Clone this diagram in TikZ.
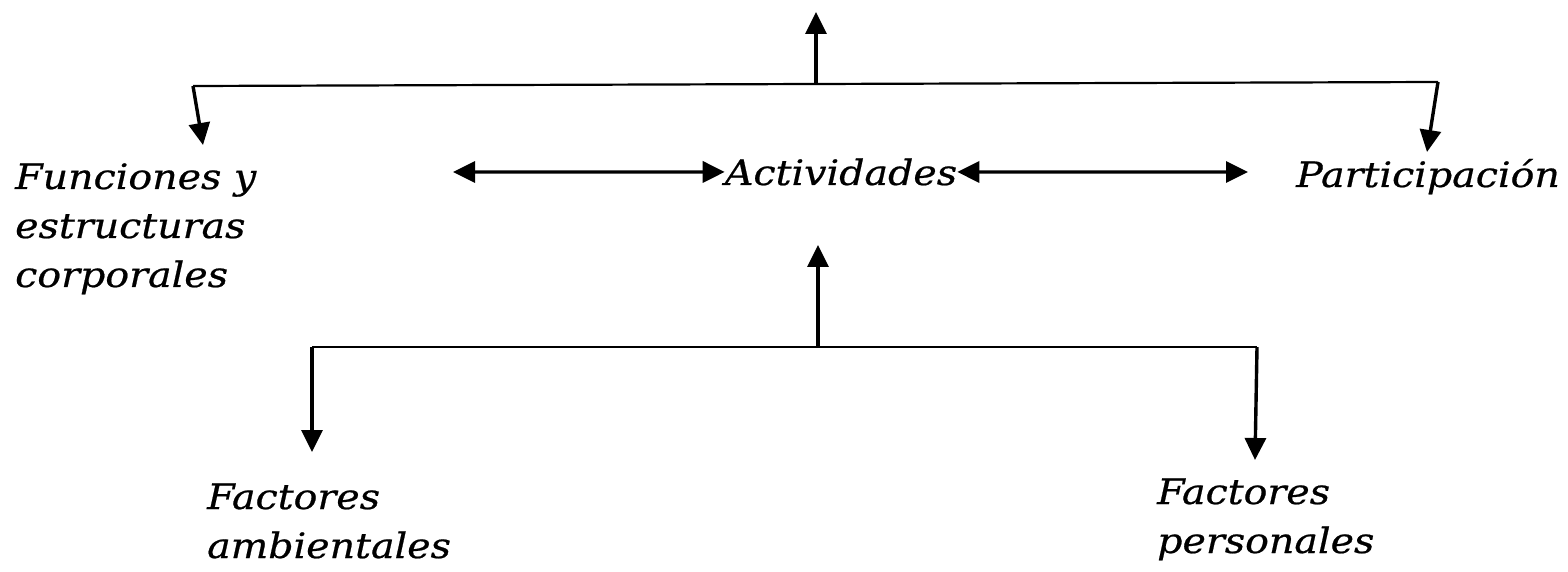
\documentclass[tikz,border=0pt]{standalone}
\usepackage{fontspec}
\setmainfont[FakeStretch=1.13,FakeBold=0.6]{DejaVu Serif}
\usetikzlibrary{arrows.meta}
\begin{document}
\begin{tikzpicture}[x=1pt,y=1pt,
  lbl/.style={font=\fontsize{35}{49}\selectfont\itshape, inner sep=0pt, align=left},
  conn/.style={line width=3.4pt, -{Triangle[length=22pt,width=21pt]}},
  dbl/.style={line width=3.4pt, {Triangle[length=22pt,width=21pt]}-{Triangle[length=22pt,width=21pt]}},
  bus/.style={line width=2.2pt}]
\useasboundingbox (0,0) rectangle (1568,571);
% nodes
\node[lbl, anchor=base west] (fun) at (15,284) {Funciones y\\estructuras\\corporales};
\node[lbl, anchor=base] (act) at (841,386) {Actividades};
\node[lbl, anchor=base west] (par) at (1296,384) {Participación};
\node[lbl, anchor=base west] (fa) at (207,13) {Factores\\ambientales};
\node[lbl, anchor=base west] (fp) at (1157,18) {Factores\\personales};
% coordinates
\coordinate (top) at (816,559);
\coordinate (tm) at (816,487);
\coordinate (tl) at (193,485);
\coordinate (tr) at (1438,489);
\coordinate (tlend) at (203,426);
\coordinate (trend) at (1427,419);
\coordinate (dl) at (453,399);
\coordinate (dr) at (1248,399);
\coordinate (mup) at (818,326);
\coordinate (bm) at (818,224);
\coordinate (bl) at (312,224);
\coordinate (br) at (1257,224);
\coordinate (blend) at (312,119);
\coordinate (brend) at (1255,111);
% connectors
\draw[bus] (tl) -- (tr);
\draw[conn] (tm) -- (top);
\draw[conn] (tl) -- (tlend);
\draw[conn] (tr) -- (trend);
\draw[dbl] (dl) -- (act.west);
\draw[dbl] (act.east) -- (dr);
\draw[bus] (bl) -- (br);
\draw[conn] (bm) -- (mup);
\draw[conn] (bl) -- (blend);
\draw[conn] (br) -- (brend);
\end{tikzpicture}
\end{document}
